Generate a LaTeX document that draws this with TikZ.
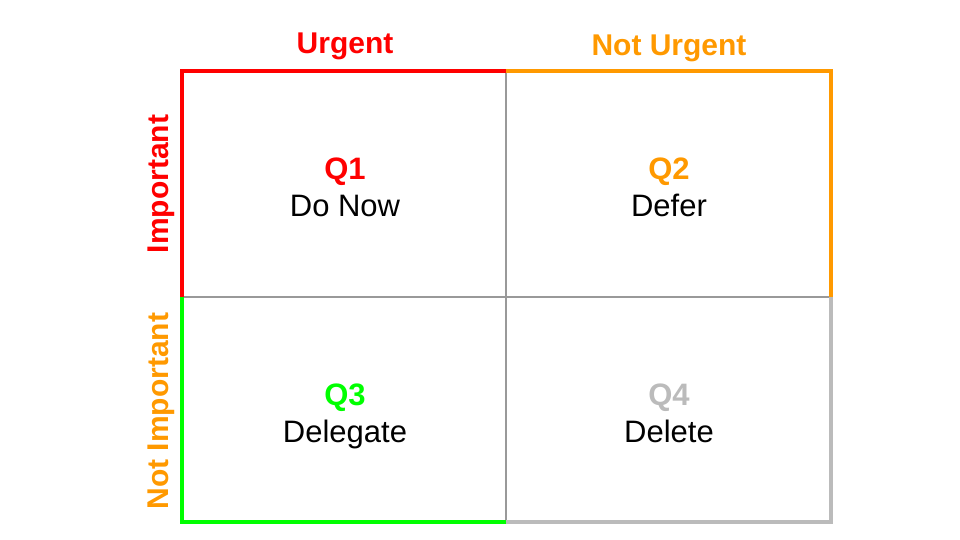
\documentclass[tikz,border=0pt]{standalone}
\usepackage{fontspec}
\setmainfont{Liberation Sans}
\definecolor{qred}{HTML}{FF0000}
\definecolor{qorange}{HTML}{FF9900}
\definecolor{qgreen}{HTML}{00FF00}
\definecolor{qgray}{HTML}{BBBBBB}
\definecolor{gridgray}{HTML}{999999}
\begin{document}
\begin{tikzpicture}[x=1pt,y=-1pt,inner sep=0pt,outer sep=0pt,
edge/.style={line width=4pt,miter limit=10},
head/.style={font=\fontsize{30}{32}\selectfont\bfseries,anchor=base},
quad/.style={align=center,font=\fontsize{31}{37}\selectfont,anchor=center}]
\useasboundingbox (0,0) rectangle (960,540);
% grid corners
\coordinate (tl) at (182,71);
\coordinate (tm) at (506,71);
\coordinate (tr) at (831,71);
\coordinate (ml) at (182,297);
\coordinate (mm) at (506,297);
\coordinate (mr) at (831,297);
\coordinate (bl) at (182,522);
\coordinate (bm) at (506,522);
\coordinate (br) at (831,522);
% inner lines
\draw[gridgray,line width=1.2pt] (tm) -- (bm);
\draw[gridgray,line width=1.2pt] (ml) -- (mr);
% coloured borders
\draw[edge,qgray] (mr) -- (br) -- (bm);
\draw[edge,qred] (ml) -- (tl) -- (tm);
\draw[edge,qorange] (tm) -- (tr) -- (mr);
\draw[edge,qgreen] (ml) -- (bl) -- (bm);
% headings
\draw (345,54) node[head,qred] (urg) {Urgent};
\draw (669,56) node[head,qorange] (nurg) {Not Urgent};
\draw (168,184) node[head,qred,rotate=90] (imp) {Important};
\draw (168,411) node[head,qorange,rotate=90] (nimp) {Not Important};
% quadrants
\draw (345,193) node[quad] (q1) {{\bfseries\color{qred}Q1}\\Do Now\strut};
\draw (669,193) node[quad] (q2) {{\bfseries\color{qorange}Q2}\\Defer\strut};
\draw (345,419) node[quad] (q3) {{\bfseries\color{qgreen}Q3}\\Delegate\strut};
\draw (669,419) node[quad] (q4) {{\bfseries\color{qgray}Q4}\\Delete\strut};
\end{tikzpicture}
\end{document}
